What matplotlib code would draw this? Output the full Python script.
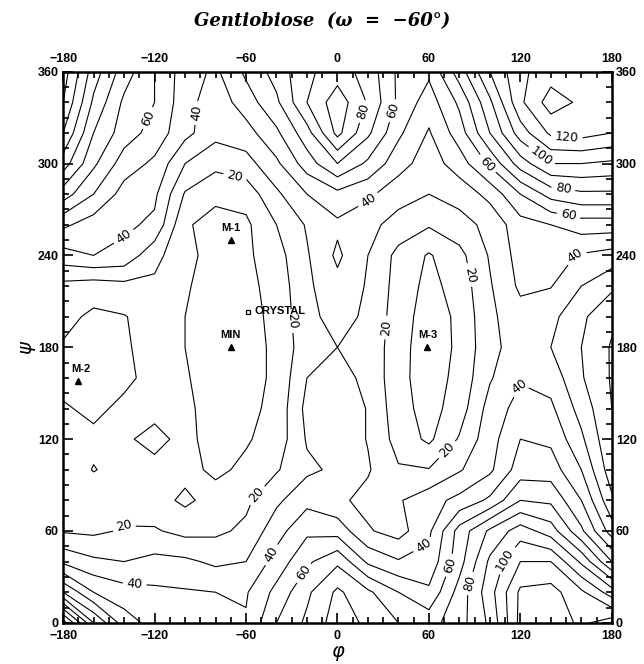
import numpy as np
import matplotlib
matplotlib.use('Agg')
import matplotlib.pyplot as plt

# grid of the map (degrees)
phi = np.arange(-180, 181, 20)
psi = np.arange(0, 361, 20)

# relative energy, one row per psi value (0 -> 360)
energy = np.array([
    [125, 80, 55, 46, 44, 43, 41, 60, 72, 85, 78, 70, 66, 76, 92, 123, 126, 118, 125],
    [70, 50, 44, 42, 41, 40, 39, 53, 68, 82, 72, 60, 52, 74, 96, 122, 124, 112, 95],
    [38, 32, 30, 33, 32, 28, 30, 44, 58, 68, 48, 41, 43, 66, 92, 110, 110, 88, 60],
    [19, 18, 21, 21, 17, 18, 22, 36, 48, 46, 31, 26, 38, 64, 82, 95, 85, 62, 35],
    [16, 15, 15, 14, 8, 14, 18, 28, 37, 32, 27, 29, 36, 43, 52, 70, 68, 50, 22],
    [15, 9.6, 13, 12, 13, 8, 12, 19, 28, 32, 31, 21, 20.5, 29, 38, 55, 55, 40, 14],
    [13, 12, 11, 8, 12, 7, 9, 14, 31, 36, 29.5, 16, 8, 21, 36, 50, 48, 32, 11],
    [11, 8, 12, 12, 12, 6, 7, 13, 33, 36, 29.5, 14, 6, 15, 34, 44, 42, 26, 10],
    [7, 5, 8, 13, 11, 5, 6, 12, 30, 33, 28, 13, 5, 13, 29, 39, 36, 21, 9],
    [9, 7, 9, 13, 10, 4, 6, 12, 26, 30, 27, 14, 4, 12, 27, 35, 30, 20, 9],
    [13, 8, 9.5, 14, 10, 5, 6, 13, 27, 34, 28, 15, 5, 12, 28, 36, 33, 22, 12],
    [17, 15, 17, 18, 11, 6, 7, 14, 28, 37, 29, 16, 7, 14, 29, 42, 40.5, 30, 22],
    [36, 40, 37, 23, 13, 6, 8, 16, 29, 42, 30, 17, 9, 17, 31, 44, 44, 39, 36],
    [52, 45, 42, 38, 11, 7, 8, 20, 31, 38, 33, 26, 21, 26, 33, 46, 50, 55, 55],
    [75, 60, 46, 42, 19, 12, 14, 28, 40, 47, 42, 34, 30, 34, 43, 60, 74, 78, 78],
    [95, 72, 55, 48, 30, 23, 26, 38, 55, 70, 58, 44, 35, 45, 62, 85, 100, 100, 98],
    [110, 80, 65, 56, 43, 33, 36, 48, 66, 93, 72, 52, 39, 55, 80, 105, 122, 124, 120],
    [120, 88, 68, 60, 44, 34, 45, 58, 80, 96, 79, 58, 45, 62, 88, 118, 135, 128, 128],
    [125, 95, 75, 60, 45, 38, 52, 64, 78, 85, 76, 58, 52, 75, 100, 118, 125, 130, 125],
])

plain_levels = [10, 30, 50, 70, 90, 110, 130]
labelled = [20, 40, 60, 80, 100, 120]

# where the contour labels sit on the original
label_spots = [(-141, 65), (-57, 87), (-68, 288), (-31, 197), (31, 193), (85, 227), (72, 113),
               (-136, 247), (-92, 333), (-133, 26), (-46, 46), (23, 273), (93, 294),
               (152, 244), (114, 157), (59, 46),
               (-125, 330), (38, 334), (-29, 37), (75, 37), (152, 268),
               (17, 334), (148, 282), (86, 26),
               (131, 301), (108, 43), (150, 311)]

# conformers
pt_names = ['MIN', 'M-1', 'M-2', 'M-3']
pt_phi = [-70, -70, -170, 59]
pt_psi = [180, 250, 158, 180]
crystal_phi, crystal_psi = -59, 203

fig = plt.figure(figsize=(6.44, 6.64), dpi=100)
ax = fig.add_axes([0.098, 0.062, 0.852, 0.830])

ax.contour(phi, psi, energy, levels=plain_levels, colors='k', linewidths=0.8)
cs = ax.contour(phi, psi, energy, levels=labelled, colors='k', linewidths=0.8)
ax.clabel(cs, manual=label_spots, fmt='%d', fontsize=9,
          inline=True, inline_spacing=4)

ax.plot(pt_phi, pt_psi, '^', color='k', ms=4, ls='none')
for n, x, y in zip(pt_names, pt_phi, pt_psi):
    dx = 2 if n == 'M-2' else 0
    ax.annotate(n, (x, y), xytext=(dx, 5), textcoords='offset points',
                ha='center', va='bottom', fontsize=8, fontweight='bold',
                family='Liberation Sans')
ax.plot([crystal_phi], [crystal_psi], 's', mfc='none', mec='k', ms=3.5, mew=0.9)
ax.annotate('CRYSTAL', (crystal_phi, crystal_psi), xytext=(5, 1), textcoords='offset points',
            ha='left', va='center', fontsize=8, fontweight='bold', family='Liberation Sans')

ax.set_xlim(-180, 180)
ax.set_ylim(0, 360)
ax.set_xticks(np.arange(-180, 181, 60))
ax.set_yticks(np.arange(0, 361, 60))
ax.set_xticks(np.arange(-180, 181, 10), minor=True)
ax.set_yticks(np.arange(0, 361, 10), minor=True)
ax.tick_params(which='both', direction='in', top=True, right=True,
               labeltop=True, labelright=True, width=1.2)
ax.tick_params(axis='x', pad=5)
ax.tick_params(axis='y', pad=3)
ax.tick_params(which='major', length=7)
ax.tick_params(which='minor', length=4)
for lab in ax.get_xticklabels() + ax.get_yticklabels():
    lab.set_fontweight('bold')
    lab.set_fontsize(9)
    lab.set_family('Liberation Sans')
for sp in ax.spines.values():
    sp.set_linewidth(1.8)

ax.set_xlabel('φ', fontsize=14, style='italic', labelpad=0)
ax.set_ylabel('ψ', fontsize=14, style='italic', labelpad=2, rotation=90)

fig.text(0.5, 0.968, 'Gentiobiose  (ω  =  −60°)', ha='center', va='center',
         fontsize=13, style='italic', fontweight='bold', family='DejaVu Serif')

fig.savefig('out.png', dpi=100)
